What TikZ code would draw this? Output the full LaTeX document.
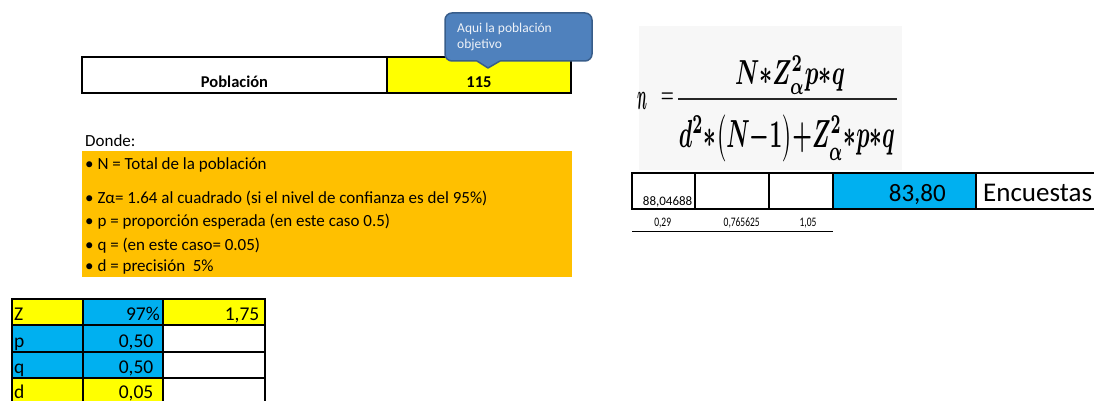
\documentclass[tikz,border=0pt]{standalone}
\usepackage{fontspec}
\setmainfont{Carlito}
\usepackage{graphicx}
\definecolor{xblue}{HTML}{00B0F0}
\definecolor{xyellow}{HTML}{FFFF00}
\definecolor{xorange}{HTML}{FFC000}
\definecolor{cbfill}{HTML}{4F81BD}
\definecolor{cbline}{HTML}{385D8A}
\definecolor{cbtext}{HTML}{EEF2F8}
\begin{document}
\begin{tikzpicture}[x=1pt,y=-1pt,
  grid/.style={draw=black,line width=1.3pt},
  thin/.style={draw=black,line width=1pt},
  lbl/.style={inner sep=0pt,font=\fontsize{17}{19}\selectfont},
  cell/.style={inner sep=0pt,font=\fontsize{19.5}{21}\selectfont},
  small/.style={inner sep=0pt,font=\fontsize{13}{15}\selectfont},
  big/.style={inner sep=0pt,font=\fontsize{25}{28}\selectfont},
  hdr/.style={inner sep=0pt,font=\fontsize{16.5}{18}\selectfont\bfseries},
  frm/.style={inner sep=0pt,font=\mathversion{bold}},
  callout/.style={fill=cbfill,draw=cbline,line width=1.5pt}]
\useasboundingbox (0,0) rectangle (1094,401);

% --- Poblacion table
\fill[xyellow] (387,57) rectangle (571,93);
\draw[grid] (82,57) rectangle (571,93);
\draw[grid] (387,57) -- (387,93);
\node[hdr,anchor=base] (pob) at (234.5,87.5) {Población};
\node[hdr,anchor=base] (n115) at (479,87.5) {115};

% --- callout
\draw[callout,rounded corners=7pt] (445,13) rectangle (592,61);
\fill[cbfill] (477,59.3) -- (500,59.3) -- (500,61) -- (488,68) -- (477,61) -- cycle;
\draw[cbline,line width=1.5pt,line join=round] (477,61) -- (488,68) -- (500,61);
\node[inner sep=0pt,anchor=base west,text=cbtext,font=\fontsize{13.5}{16.5}\selectfont,align=left] (ctext) at (457,49) {Aqui la población\\objetivo};

% --- Donde list
\node[lbl,anchor=base west] (donde) at (85,146.7) {Donde:};
\fill[xorange] (82,151) rectangle (572,276.5);
\node[lbl,anchor=base west] (l1) at (85,169) {• N = Total de la población};
\node[lbl,anchor=base west] (l2) at (85,203.3) {• Zα= 1.64 al cuadrado (si el nivel de confianza es del 95\%)};
\node[lbl,anchor=base west] (l3) at (85,226.7) {• p = proporción esperada (en este caso 0.5)};
\node[lbl,anchor=base west] (l4) at (85,250) {• q = (en este caso= 0.05)};
\node[lbl,anchor=base west] (l5) at (85,271.7) {• d = precisión~ 5\%};

% --- parameters table
\fill[xyellow] (12,299) rectangle (83,325);
\fill[xblue] (83,299) rectangle (163,325);
\fill[xyellow] (163,299) rectangle (265,325);
\fill[xblue] (12,325) rectangle (163,378);
\fill[xyellow] (12,378) rectangle (163,404);
\foreach \ya/\yb in {299/325,325/352,352/378,378/404}{
  \draw[grid] (12,\ya) rectangle (83,\yb);
  \draw[grid] (83,\ya) rectangle (163,\yb);
  \draw[grid] (163,\ya) rectangle (265,\yb);
}
\node[cell,anchor=base west] (tz) at (14,320.5) {Z};
\node[cell,anchor=base east] (tzv) at (160,320.5) {97\%};
\node[cell,anchor=base east] (tzr) at (259.5,320.5) {1,75};
\node[cell,anchor=base west] (tp) at (14,347) {p};
\node[cell,anchor=base east] (tpv) at (153.5,347) {0,50};
\node[cell,anchor=base west] (tq) at (14,373.5) {q};
\node[cell,anchor=base east] (tqv) at (153.5,373.5) {0,50};
\node[cell,anchor=base west] (td) at (14,398.5) {d};
\node[cell,anchor=base east] (tdv) at (153.5,398.5) {0,05};

% --- formula
\fill[black!3] (639,26) rectangle (902,170);
\node[frm,anchor=base] (fn) at (642,110) {\resizebox{10pt}{17pt}{$n$}};
\node[frm,anchor=base] (feq) at (667.5,102.5) {\fontsize{24}{26}\selectfont\scalebox{0.6}[1]{$=$}};
\draw[black!85,line width=2.6pt] (678,99) -- (897,99);
\node[frm,anchor=south] (fnum) at (790,95) {\resizebox*{110pt}{39pt}{$N{*}Z_\alpha^2p{*}q$}};
\node[frm,anchor=north] (fden) at (787,114.5) {\resizebox*{216pt}{47pt}{$d^2{*}\bigl(N{-}1\bigr){+}Z_\alpha^2{*}p{*}q$}};

% --- result table
\fill[xblue] (833,173) rectangle (976,209);
\foreach \xa/\xb in {632/695,695/769,769/833,833/976,976/1110}{
  \draw[grid] (\xa,173) rectangle (\xb,209);
}
\draw[thin] (632,231.7) -- (833,231.7);
\node[small,anchor=base east] (r1) at (692.5,205) {88,04688};
\node[small,anchor=base] (s1) at (662.7,226) {\scalebox{0.73}[1]{0,29}};
\node[small,anchor=base] (s2) at (741.7,226) {\scalebox{0.73}[1]{0,765625}};
\node[small,anchor=base] (s3) at (808,226) {\scalebox{0.73}[1]{1,05}};
\node[big,anchor=base east] (res) at (946,201.7) {83,80};
\node[inner sep=0pt,font=\fontsize{27}{29}\selectfont,anchor=base west] (enc) at (983,201.7) {Encuestas};
\end{tikzpicture}
\end{document}
